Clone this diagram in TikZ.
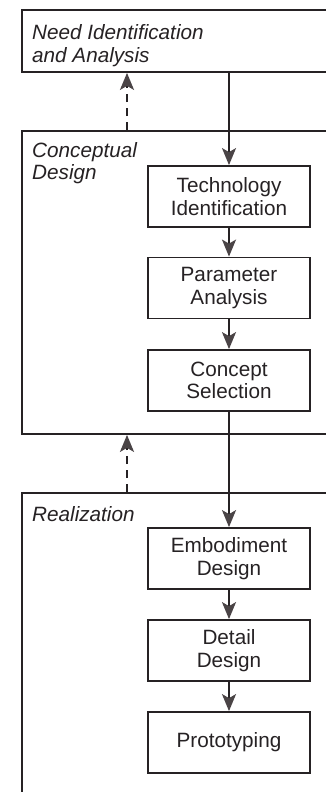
\documentclass[tikz,border=0pt]{standalone}
\usepackage{fontspec}
\setmainfont{Liberation Sans}
\usetikzlibrary{arrows.meta}
\definecolor{ink}{HTML}{262224}
\definecolor{tipgrey}{HTML}{4A4446}
\tikzset{
  bigbox/.style={draw=ink, line width=1.8pt, rectangle, inner sep=0pt},
  stepbox/.style={draw=ink, line width=1.8pt, rectangle, minimum width=162pt, minimum height=61pt,
    inner sep=0pt, align=center, text=ink, font=\fontsize{20.7}{22.5}\selectfont},
  phaselabel/.style={anchor=base west, inner sep=0pt, align=left, text=ink,
    font=\fontsize{20.7}{22.5}\selectfont\itshape},
  flow/.style={draw=ink, line width=1.8pt,
    -{Stealth[length=17pt,width=14pt,inset=4pt,color=tipgrey,fill=tipgrey]}},
  back/.style={draw=ink, line width=1.9pt, dash pattern=on 8pt off 6pt,
    -{Stealth[length=17pt,width=14pt,inset=4pt,color=tipgrey,fill=tipgrey]}}
}
\begin{document}
\begin{tikzpicture}[x=1pt,y=-1pt]
\useasboundingbox (0,0) rectangle (326,792);
\clip (0,0) rectangle (326,792);
\fill[white] (0,0) rectangle (326,792);
% phase boxes (extend past the right and bottom edges)
\node[bigbox, minimum width=320pt, minimum height=62pt] (need) at (182,41) {};
\node[bigbox, minimum width=320pt, minimum height=303pt] (cd) at (182,282.5) {};
\node[bigbox, minimum width=320pt, minimum height=330pt] (rz) at (182,658) {};
% phase labels (anchor is the baseline of the last line)
\node[phaselabel] (needlbl) at (32,62.5) {Need Identification\\and Analysis};
\node[phaselabel] (cdlbl) at (32,179.5) {Conceptual\\Design};
\node[phaselabel] (rzlbl) at (32,521) {Realization};
% steps
\node[stepbox] (tech) at (229,196.5) {Technology\\Identification};
\node[stepbox] (param) at (229,288) {Parameter\\Analysis};
\node[stepbox] (sel) at (229,380.5) {Concept\\Selection};
\node[stepbox] (emb) at (229,558.5) {Embodiment\\Design};
\node[stepbox] (det) at (229,650.5) {Detail\\Design};
\node[stepbox] (proto) at (229,742.5) {Prototyping};
% forward flow
\draw[flow] (need.south -| tech.north) -- (tech.north);
\draw[flow] (tech) -- (param);
\draw[flow] (param) -- (sel);
\draw[flow] (sel) -- (emb);
\draw[flow] (emb) -- (det);
\draw[flow] (det) -- (proto);
% feedback
\coordinate (fbx) at (127,0);
\draw[back] (cd.north -| fbx) -- (need.south -| fbx);
\draw[back] (rz.north -| fbx) -- (cd.south -| fbx);
\end{tikzpicture}
\end{document}
